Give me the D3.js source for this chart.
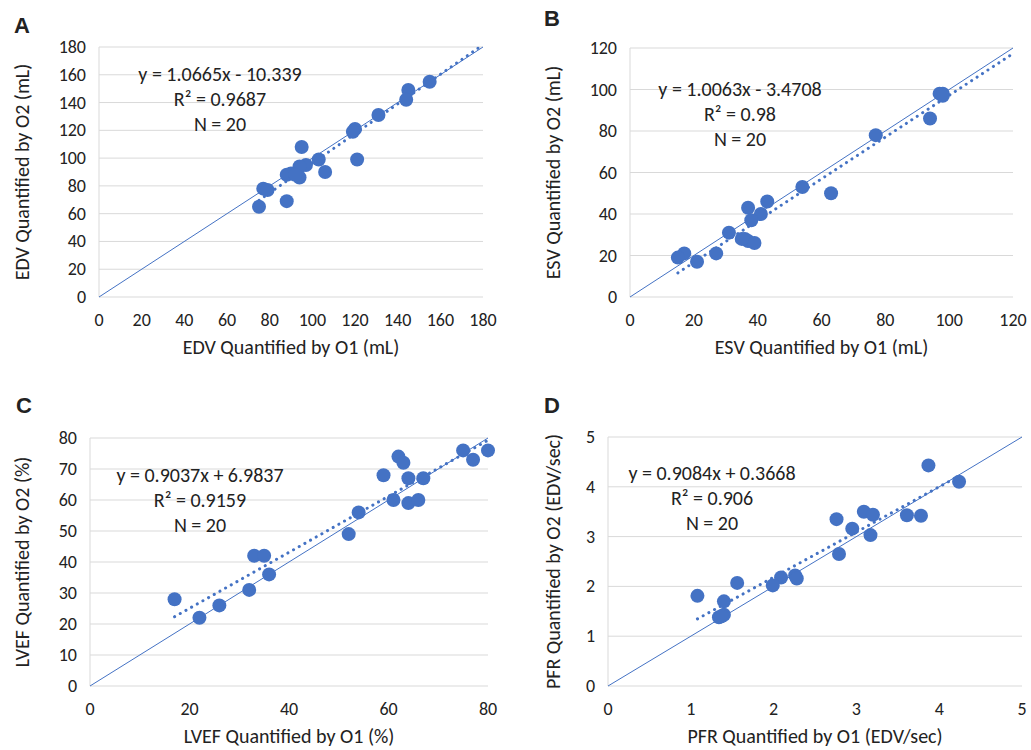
<!DOCTYPE html>
<html>
<head>
<meta charset="utf-8">
<script src="https://cdn.jsdelivr.net/npm/d3@7"></script>
<style>
  body { margin: 0; background: #fff; }
  svg text { font-family: Carlito, Calibri, Lato, sans-serif; fill: #222; }
  .panel-label { font-family: "Liberation Sans", Arial, sans-serif; font-weight: bold; font-size: 22px; }
</style>
</head>
<body>
<div id="chart"></div>
<script>
// values (observer O1 on x, O2 on y)
var edvX = [155, 145, 144, 131, 120, 119, 121, 103, 106, 95, 97, 94, 94, 90, 88, 77, 79, 88, 75, 92];
var edvY = [155, 149, 142, 131, 121, 119, 99, 99, 90, 108, 95, 94, 86, 89, 88, 78, 77, 69, 65, 88];
var esvX = [97, 98, 94, 77, 63, 54, 43, 41, 37, 38, 36, 37, 39, 31, 27, 21, 17, 15, 98, 35];
var esvY = [98, 98, 86, 78, 50, 53, 46, 40, 43, 37, 28, 27, 26, 31, 21, 17, 21, 19, 97, 28];
var lvefX = [80, 75, 77, 62, 63, 59, 64, 67, 61, 64, 66, 54, 52, 33, 35, 36, 32, 26, 22, 17];
var lvefY = [76, 76, 73, 74, 72, 68, 67, 67, 60, 59, 60, 56, 49, 42, 42, 36, 31, 26, 22, 28];
var pfrX = [3.87, 4.24, 3.61, 3.78, 3.09, 3.20, 2.76, 2.95, 3.17, 2.79, 2.09, 2.26, 2.28, 1.99, 1.56, 1.08, 1.40, 1.34, 1.40, 1.37];
var pfrY = [4.43, 4.10, 3.43, 3.42, 3.50, 3.44, 3.35, 3.16, 3.03, 2.65, 2.18, 2.22, 2.16, 2.02, 2.07, 1.81, 1.70, 1.38, 1.43, 1.40];

var edvTicks = [0, 20, 40, 60, 80, 100, 120, 140, 160, 180];
var esvTicks = [0, 20, 40, 60, 80, 100, 120];
var lvefTicks = [0, 10, 20, 30, 40, 50, 60, 70, 80];
var lvefXTicks = [0, 20, 40, 60, 80];
var pfrTicks = [0, 1, 2, 3, 4, 5];

// trendline: slope, intercept, x range drawn
var edvFit = [1.0665, -10.339], edvFitRange = [75, 180];
var esvFit = [1.0063, -3.4708], esvFitRange = [15, 120];
var lvefFit = [0.9037, 6.9837], lvefFitRange = [17, 80];
var pfrFit = [0.9084, 0.3668], pfrFitRange = [1.08, 4.24];

var edvText = ["y = 1.0665x - 10.339", "R\u00b2 = 0.9687", "N = 20"];
var esvText = ["y = 1.0063x - 3.4708", "R\u00b2 = 0.98", "N = 20"];
var lvefText = ["y = 0.9037x + 6.9837", "R\u00b2 = 0.9159", "N = 20"];
var pfrText = ["y = 0.9084x + 0.3668", "R\u00b2 = 0.906", "N = 20"];

var blue = "#4472C4";

var svg = d3.select("#chart").append("svg")
  .attr("width", 1031)
  .attr("height", 750);

function drawPanel(p) {
  var x = d3.scaleLinear().domain([0, p.max]).range([p.left, p.right]);
  var y = d3.scaleLinear().domain([0, p.max]).range([p.bottom, p.top]);
  var g = svg.append("g");

  var clipId = "clip" + p.label;
  svg.append("clipPath").attr("id", clipId)
    .append("rect")
    .attr("x", p.left).attr("y", p.top - 1)
    .attr("width", p.right - p.left + 2).attr("height", p.bottom - p.top + 1);

  // gridlines
  g.selectAll(".grid").data(p.yTicks.filter(d => d > 0)).enter()
    .append("line")
    .attr("x1", p.left).attr("x2", p.right)
    .attr("y1", d => y(d)).attr("y2", d => y(d))
    .attr("stroke", "#d9d9d9").attr("stroke-width", 1);

  // axis lines
  g.append("line")
    .attr("x1", p.left).attr("x2", p.right)
    .attr("y1", p.bottom).attr("y2", p.bottom)
    .attr("stroke", "#d9d9d9");
  g.append("line")
    .attr("x1", p.left).attr("x2", p.left)
    .attr("y1", p.top).attr("y2", p.bottom)
    .attr("stroke", "#d9d9d9");

  // tick labels
  g.selectAll(".yt").data(p.yTicks).enter()
    .append("text")
    .attr("x", p.left - 13)
    .attr("y", d => y(d) + 6)
    .attr("text-anchor", "end")
    .style("font-size", "18px")
    .text(d => d);
  g.selectAll(".xt").data(p.xTicks).enter()
    .append("text")
    .attr("x", d => x(d))
    .attr("y", p.bottom + 29)
    .attr("text-anchor", "middle")
    .style("font-size", "18px")
    .text(d => d);

  // axis titles
  g.append("text")
    .attr("x", (p.left + p.right) / 2)
    .attr("y", p.bottom + 57)
    .attr("text-anchor", "middle")
    .style("font-size", "20px")
    .text(p.xTitle);
  g.append("text")
    .attr("transform", "translate(" + p.yTitleX + "," + ((p.top + p.bottom) / 2) + ") rotate(-90)")
    .attr("text-anchor", "middle")
    .style("font-size", "20px")
    .text(p.yTitle);

  // identity line
  g.append("line")
    .attr("x1", x(0)).attr("y1", y(0))
    .attr("x2", x(p.max)).attr("y2", y(p.max))
    .attr("stroke", blue).attr("stroke-width", 1);

  // trendline
  var fit = p.fit;
  g.append("line")
    .attr("clip-path", "url(#" + clipId + ")")
    .attr("x1", x(p.fitRange[0])).attr("y1", y(fit[0] * p.fitRange[0] + fit[1]))
    .attr("x2", x(p.fitRange[1])).attr("y2", y(fit[0] * p.fitRange[1] + fit[1]))
    .attr("stroke", blue).attr("stroke-width", 3)
    .attr("stroke-linecap", "round")
    .attr("stroke-dasharray", "0.1 6.4");

  // points
  g.selectAll(".pt").data(p.xs).enter()
    .append("circle")
    .attr("cx", d => x(d))
    .attr("cy", (d, i) => y(p.ys[i]))
    .attr("r", 7)
    .attr("fill", blue);

  // equation text
  g.selectAll(".eq").data(p.text).enter()
    .append("text")
    .attr("x", p.textX)
    .attr("y", (d, i) => p.textY + i * 25)
    .attr("text-anchor", "middle")
    .style("font-size", "20px")
    .text(d => d);

  svg.append("text")
    .attr("class", "panel-label")
    .attr("x", p.labelX).attr("y", p.labelY)
    .text(p.label);
}

drawPanel({
  label: "A", labelX: 14, labelY: 33,
  left: 99, right: 483, top: 47, bottom: 297, max: 180,
  xs: edvX, ys: edvY, xTicks: edvTicks, yTicks: edvTicks,
  fit: edvFit, fitRange: edvFitRange, text: edvText, textX: 220, textY: 81,
  xTitle: "EDV Quantified by O1 (mL)", yTitle: "EDV Quantified by O2 (mL)", yTitleX: 29
});
drawPanel({
  label: "B", labelX: 544, labelY: 26,
  left: 630, right: 1013, top: 48, bottom: 297, max: 120,
  xs: esvX, ys: esvY, xTicks: esvTicks, yTicks: esvTicks,
  fit: esvFit, fitRange: esvFitRange, text: esvText, textX: 740, textY: 96,
  xTitle: "ESV Quantified by O1 (mL)", yTitle: "ESV Quantified by O2 (mL)", yTitleX: 560
});
drawPanel({
  label: "C", labelX: 16, labelY: 413,
  left: 90, right: 488, top: 438, bottom: 686, max: 80,
  xs: lvefX, ys: lvefY, xTicks: lvefXTicks, yTicks: lvefTicks,
  fit: lvefFit, fitRange: lvefFitRange, text: lvefText, textX: 200, textY: 482,
  xTitle: "LVEF Quantified by O1 (%)", yTitle: "LVEF Quantified by O2 (%)", yTitleX: 29
});
drawPanel({
  label: "D", labelX: 544, labelY: 413,
  left: 608, right: 1022, top: 437, bottom: 686, max: 5,
  xs: pfrX, ys: pfrY, xTicks: pfrTicks, yTicks: pfrTicks,
  fit: pfrFit, fitRange: pfrFitRange, text: pfrText, textX: 712, textY: 480,
  xTitle: "PFR Quantified by O1 (EDV/sec)", yTitle: "PFR Quantified by O2 (EDV/sec)", yTitleX: 560
});
</script>
</body>
</html>
